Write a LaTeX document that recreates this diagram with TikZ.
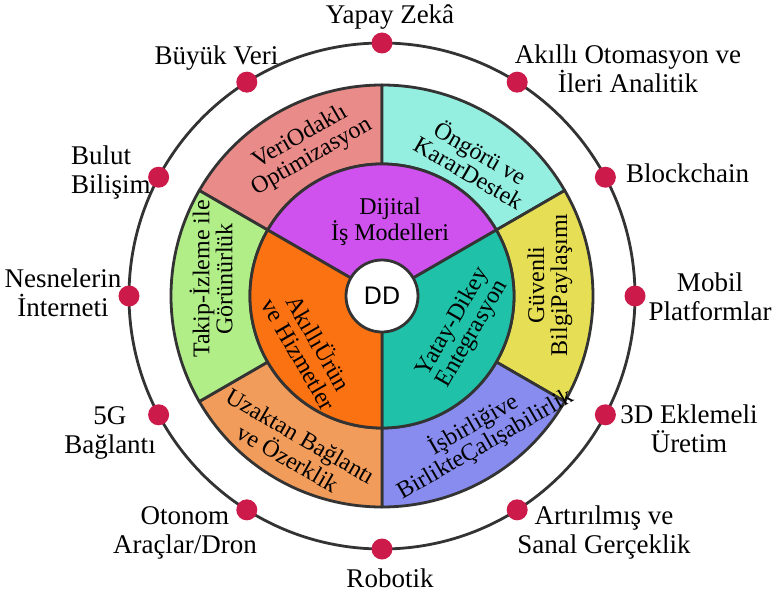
\documentclass[tikz,border=0pt]{standalone}
\usepackage{fontspec}
\setmainfont{Liberation Serif}
\newfontfamily\ddfont{DejaVu Sans}
\definecolor{edge}{HTML}{333333}
\definecolor{dotred}{HTML}{CC1A4A}
\definecolor{segpink}{HTML}{E98B88}
\definecolor{segaqua}{HTML}{95EFE0}
\definecolor{segyellow}{HTML}{E6DF55}
\definecolor{segblue}{HTML}{878CEE}
\definecolor{seglorange}{HTML}{F19C5B}
\definecolor{seggreen}{HTML}{B2EE88}
\definecolor{segpurple}{HTML}{CF52EE}
\definecolor{segteal}{HTML}{1FC2A8}
\definecolor{segorange}{HTML}{FA7212}

\begin{document}
\begin{tikzpicture}[x=1pt,y=1pt,
	ring/.style={draw=edge,line width=2.8pt,line join=round},
	dot/.style={circle,fill=dotred,inner sep=0,outer sep=0,minimum size=21pt},
	outer/.style={font=\fontsize{27}{29}\selectfont,align=center,inner sep=0,anchor=base},
	segtext/.style={font=\fontsize{24}{23}\selectfont,align=center,inner sep=0}]
	\useasboundingbox (-382,-299) rectangle (394,296);
	\draw[edge,line width=2.8pt] (0,0) circle (253);
	% outer ring
	\draw[ring,fill=segpink] (90:211) arc (90:150:211) -- (150:132) arc (150:90:132) -- cycle;
	\draw[ring,fill=segaqua] (30:211) arc (30:90:211) -- (90:132) arc (90:30:132) -- cycle;
	\draw[ring,fill=segyellow] (-30:211) arc (-30:30:211) -- (30:132) arc (30:-30:132) -- cycle;
	\draw[ring,fill=segblue] (-90:211) arc (-90:-30:211) -- (-30:132) arc (-30:-90:132) -- cycle;
	\draw[ring,fill=seglorange] (210:211) arc (210:270:211) -- (270:132) arc (270:210:132) -- cycle;
	\draw[ring,fill=seggreen] (150:211) arc (150:210:211) -- (210:132) arc (210:150:132) -- cycle;
	% inner ring
	\draw[ring,fill=segpurple] (0,0) -- (30:132) arc (30:150:132) -- cycle;
	\draw[ring,fill=segteal] (0,0) -- (-90:132) arc (-90:30:132) -- cycle;
	\draw[ring,fill=segorange] (0,0) -- (150:132) arc (150:270:132) -- cycle;
	\node[draw=edge,line width=2.8pt,circle,fill=white,inner sep=0,minimum size=72pt,font=\ddfont\fontsize{24}{24}\selectfont] (dd) at (0,0) {DD};
	% dots
	\foreach \a [count=\i] in {90,57.7,28,0,-28,-57.7,-90,-122.3,-152,180,152,122.3}
		\node[dot] (d\i) at (\a:253) {};
	% ring texts
	\node[segtext,rotate=30] (vo) at (-76,149) {VeriOdaklı\\Optimizasyon};
	\node[segtext,rotate=-30] (ok) at (93,134) {Öngörü ve\\KararDestek};
	\node[segtext,rotate=90] (gb) at (168,11) {Güvenli\\BilgiPaylaşımı};
	\node[segtext,rotate=30] (ib) at (97,-138) {İşbirliğive\\BirlikteÇalışabilirlik};
	\node[segtext,rotate=-30] (uo) at (-88,-151) {Uzaktan Bağlantı\\ve Özerklik};
	\node[segtext,rotate=90] (ti) at (-171,17) {Takip-İzleme ile\\Görünürlük};
	\node[segtext] (di) at (8,74) {Dijital\\İş Modelleri};
	\node[segtext,rotate=60] (yd) at (81,-32) {Yatay-Dikey\\Entegrasyon};
	\node[segtext,rotate=-60] (au) at (-72,-52) {AkıllıÜrün\\ve Hizmetler};
	% outer labels
	\node[outer] (yz) at (8,272) {Yapay Zekâ};
	\node[outer] (bv) at (-165.5,232) {Büyük Veri};
	\node[outer] (ao) at (246,204) {Akıllı Otomasyon ve\\İleri Analitik};
	\node[outer,anchor=base west] (bc) at (244,114) {Blockchain};
	\node[outer] (mp) at (328,-24) {Mobil\\Platformlar};
	\node[outer] (ed) at (307,-156) {3D Eklemeli\\Üretim};
	\node[outer] (as) at (222,-257) {Artırılmış ve\\Sanal Gerçeklik};
	\node[outer] (rb) at (8,-291) {Robotik};
	\node[outer] (oa) at (-197,-257) {Otonom\\Araçlar/Dron};
	\node[outer] (5g) at (-272,-157) {5G\\Bağlantı};
	\node[outer] (ni) at (-319,-20) {Nesnelerin\\İnterneti};
	\node[outer,align=left,anchor=base west] (bb) at (-311,103) {Bulut\\Bilişim};
\end{tikzpicture}
\end{document}
